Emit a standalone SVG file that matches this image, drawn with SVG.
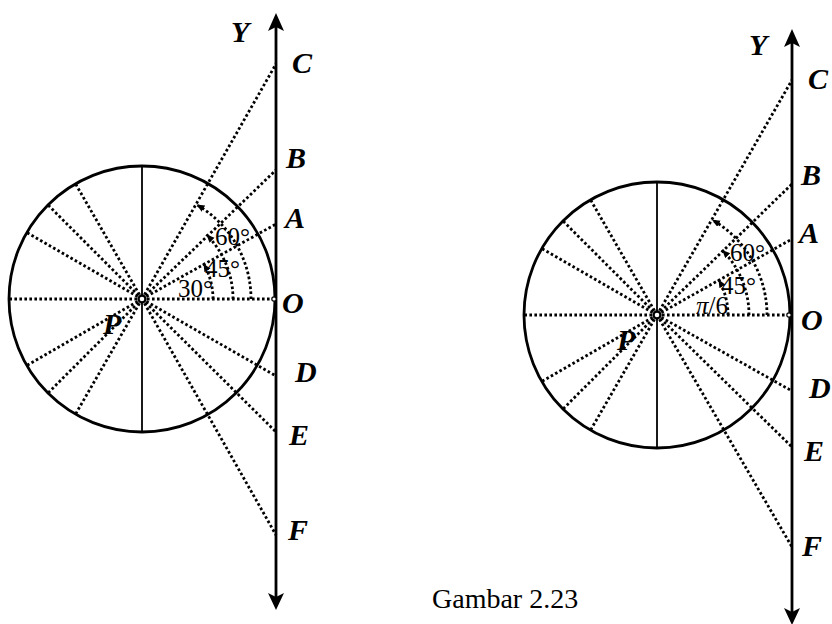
<svg xmlns="http://www.w3.org/2000/svg" width="832" height="624" viewBox="0 0 832 624">
<style>
.dot{stroke:#000;stroke-width:2.8;stroke-dasharray:2.6 2.4;fill:none}
.arc{stroke:#000;stroke-width:2.8;stroke-dasharray:2.6 2.4;fill:none;marker-end:url(#ah)}
.solid{stroke:#000;stroke-width:1.8;fill:none}
.circ{stroke:#000;stroke-width:2.8;fill:none}
.axis{stroke:#000;stroke-width:2.8;fill:none}
.head{fill:#000;stroke:none}
.lbl{font-family:"Liberation Serif","Times New Roman",serif;font-size:30px;font-weight:bold;font-style:italic;fill:#000}
.ang{font-family:"Liberation Serif","Times New Roman",serif;font-size:25px;fill:#000}
.cap{font-family:"Liberation Serif","Times New Roman",serif;font-size:28px;fill:#000}
.pc{fill:#fff;stroke:#000;stroke-width:2.4}
.oc{fill:#fff;stroke:#000;stroke-width:1.2}
</style>
<defs>
<marker id="ah" markerWidth="9" markerHeight="9" refX="8" refY="3.5" orient="auto" markerUnits="userSpaceOnUse"><path d="M0,0 L8,3.5 L0,7 z" fill="#000"/></marker>
</defs>
<g id="left-diagram">
  <g id="left-circle"><circle class="circ" cx="142" cy="299" r="133"/><line class="solid" x1="142" y1="166" x2="142" y2="432"/></g>
  <g id="left-connectors">
    <line class="dot" x1="142" y1="299" x2="276" y2="64"/>
    <line class="dot" x1="142" y1="299" x2="276" y2="170"/>
    <line class="dot" x1="142" y1="299" x2="276" y2="224"/>
    <line class="dot" x1="142" y1="299" x2="272" y2="299"/>
    <line class="dot" x1="142" y1="299" x2="276" y2="376"/>
    <line class="dot" x1="142" y1="299" x2="276" y2="432"/>
    <line class="dot" x1="142" y1="299" x2="276" y2="535"/>
    <line class="dot" x1="142" y1="299" x2="75.5" y2="183.8"/>
    <line class="dot" x1="142" y1="299" x2="48" y2="205"/>
    <line class="dot" x1="142" y1="299" x2="26.8" y2="232.5"/>
    <line class="dot" x1="142" y1="299" x2="9" y2="299"/>
    <line class="dot" x1="142" y1="299" x2="26.8" y2="365.5"/>
    <line class="dot" x1="142" y1="299" x2="48" y2="393"/>
    <line class="dot" x1="142" y1="299" x2="75.5" y2="414.2"/>
    <path class="arc" d="M213,299 A71,71 0 0 0 203.5,263.5"/>
    <path class="arc" d="M233,299 A91,91 0 0 0 206.4,234.6"/>
    <path class="arc" d="M251,299 A109,109 0 0 0 196.5,204.6"/>
  </g>
  <g id="left-axis">
    <line class="axis" x1="276" y1="24" x2="276" y2="600"/>
    <polygon class="head" points="276,13 284,31 276,27 268,31"/>
    <polygon class="head" points="276,610 284,593 276,597 268,593"/>
  </g>
  <g id="left-P"><circle class="pc" cx="142" cy="299" r="3.5"/><text class="lbl" x="103" y="334">P</text></g>
  <g id="left-O"><circle class="oc" cx="274" cy="299" r="2.2"/><text class="lbl" x="282" y="313">O</text></g>
  <g id="left-Y"><text class="lbl" x="231" y="42">Y</text></g>
  <g id="left-C"><text class="lbl" x="292" y="73">C</text></g>
  <g id="left-B"><text class="lbl" x="286" y="168">B</text></g>
  <g id="left-A"><text class="lbl" x="285" y="228">A</text></g>
  <g id="left-D"><text class="lbl" x="295" y="382">D</text></g>
  <g id="left-E"><text class="lbl" x="289" y="445">E</text></g>
  <g id="left-F"><text class="lbl" x="288" y="540">F</text></g>
  <g id="left-angles">
    <text class="ang" x="178" y="297">30°</text>
    <text class="ang" x="205" y="277">45°</text>
    <text class="ang" x="215" y="245">60°</text>
  </g>
</g>
<g id="right-diagram">
  <g id="right-circle"><circle class="circ" cx="657" cy="315" r="133"/><line class="solid" x1="657" y1="182" x2="657" y2="448"/></g>
  <g id="right-connectors">
    <line class="dot" x1="657" y1="315" x2="792" y2="80"/>
    <line class="dot" x1="657" y1="315" x2="792" y2="184"/>
    <line class="dot" x1="657" y1="315" x2="792" y2="239"/>
    <line class="dot" x1="657" y1="315" x2="787" y2="315"/>
    <line class="dot" x1="657" y1="315" x2="792" y2="391"/>
    <line class="dot" x1="657" y1="315" x2="792" y2="447"/>
    <line class="dot" x1="657" y1="315" x2="792" y2="547"/>
    <line class="dot" x1="657" y1="315" x2="590.5" y2="199.8"/>
    <line class="dot" x1="657" y1="315" x2="563" y2="221"/>
    <line class="dot" x1="657" y1="315" x2="541.8" y2="248.5"/>
    <line class="dot" x1="657" y1="315" x2="524" y2="315"/>
    <line class="dot" x1="657" y1="315" x2="541.8" y2="381.5"/>
    <line class="dot" x1="657" y1="315" x2="563" y2="409"/>
    <line class="dot" x1="657" y1="315" x2="590.5" y2="430.2"/>
    <path class="arc" d="M728,315 A71,71 0 0 0 718.5,279.5"/>
    <path class="arc" d="M749,315 A92,92 0 0 0 722.1,250"/>
    <path class="arc" d="M767,315 A110,110 0 0 0 712,219.7"/>
  </g>
  <g id="right-axis">
    <line class="axis" x1="792" y1="40" x2="792" y2="614"/>
    <polygon class="head" points="792,29 800,47 792,43 784,47"/>
    <polygon class="head" points="792,625 800,608 792,612 784,608"/>
  </g>
  <g id="right-P"><circle class="pc" cx="657" cy="315" r="3.5"/><text class="lbl" x="617" y="350">P</text></g>
  <g id="right-O"><circle class="oc" cx="789" cy="315" r="2.2"/><text class="lbl" x="801" y="330">O</text></g>
  <g id="right-Y"><text class="lbl" x="749" y="55">Y</text></g>
  <g id="right-C"><text class="lbl" x="808" y="89">C</text></g>
  <g id="right-B"><text class="lbl" x="801" y="185">B</text></g>
  <g id="right-A"><text class="lbl" x="799" y="243">A</text></g>
  <g id="right-D"><text class="lbl" x="809" y="398">D</text></g>
  <g id="right-E"><text class="lbl" x="804" y="461">E</text></g>
  <g id="right-F"><text class="lbl" x="802" y="556">F</text></g>
  <g id="right-angles">
    <text class="ang" x="696" y="314"><tspan font-style="italic">π</tspan>/6</text>
    <text class="ang" x="721" y="294">45°</text>
    <text class="ang" x="730" y="261">60°</text>
  </g>
</g>
<g id="caption"><text class="cap" x="432" y="608">Gambar 2.23</text></g>
</svg>
